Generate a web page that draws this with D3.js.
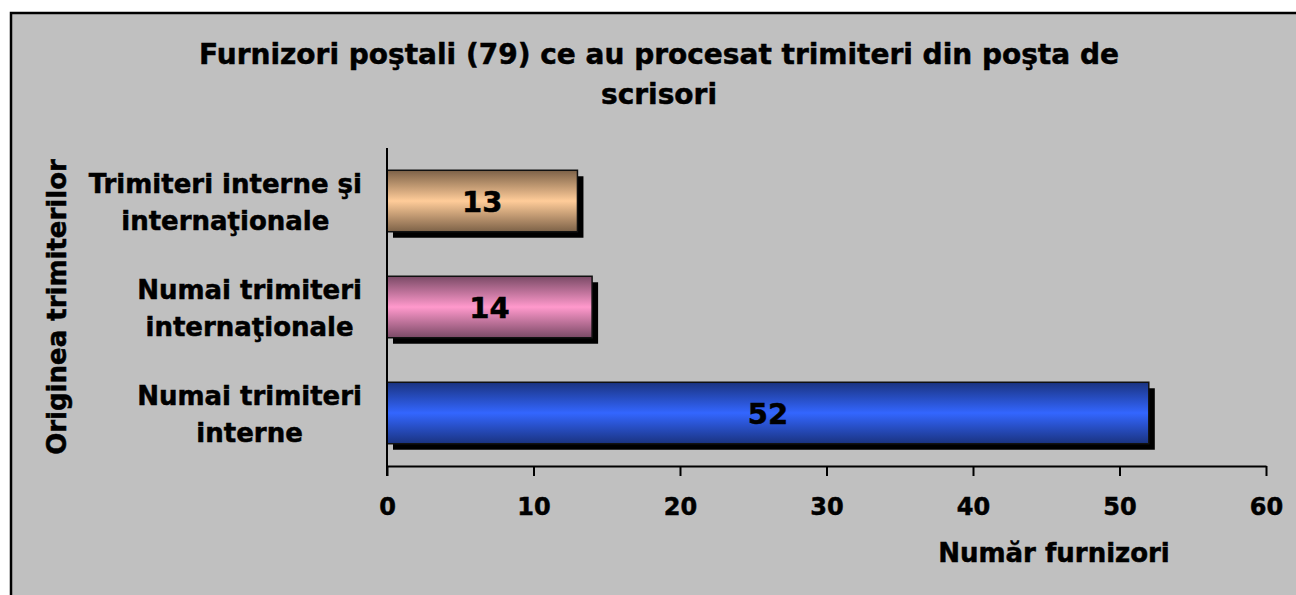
<!DOCTYPE html>
<html>
<head>
<meta charset="utf-8">
<script src="https://cdn.jsdelivr.net/npm/d3@7"></script>
<style>
  body { margin: 0; background: #fff; }
  text { font-family: "DejaVu Sans", Verdana, sans-serif; font-weight: bold; fill: #000; stroke: #000; stroke-width: 0.5px; }
</style>
</head>
<body>
<div id="chart"></div>
<script>
const categories = [
  ["Trimiteri interne şi", "internaţionale"],
  ["Numai trimiteri", "internaţionale"],
  ["Numai trimiteri", "interne"]
];
const values = [13, 14, 52];
const barColors = [
  ["#7d6248", "#ffcc99"],
  ["#7a4a66", "#ff99cc"],
  ["#1a3380", "#3366ff"]
];
const xTicks = [0, 10, 20, 30, 40, 50, 60];
const titleLines = ["Furnizori poştali (79) ce au procesat trimiteri din poşta de", "scrisori"];

const W = 1296, H = 595;
const margin = {top: 148, right: 30, bottom: 129, left: 387};
const width = W - margin.left - margin.right,
      height = H - margin.top - margin.bottom;

const svg = d3.select("#chart").append("svg")
  .attr("width", W).attr("height", H);

// chart area background + frame
svg.append("rect")
  .attr("x", 11).attr("y", 13)
  .attr("width", W + 10).attr("height", H + 10)
  .attr("fill", "#c0c0c0")
  .attr("stroke", "#000").attr("stroke-width", 2.5);

const defs = svg.append("defs");
barColors.forEach((c, i) => {
  const g = defs.append("linearGradient")
    .attr("id", "grad" + i)
    .attr("x1", 0).attr("y1", 0).attr("x2", 0).attr("y2", 1);
  g.append("stop").attr("offset", "0%").attr("stop-color", c[0]);
  g.append("stop").attr("offset", "50%").attr("stop-color", c[1]);
  g.append("stop").attr("offset", "100%").attr("stop-color", c[0]);
});

const g = svg.append("g")
  .attr("transform", `translate(${margin.left},${margin.top})`);

const xScale = d3.scaleLinear().domain([0, 60]).range([0, 879]);
const yScale = d3.scaleBand()
  .domain(d3.range(categories.length))
  .range([0, height])
  .paddingInner(0.42).paddingOuter(0.21);

// shadows
g.selectAll("rect.shadow")
  .data(values)
  .enter().append("rect")
  .attr("class", "shadow")
  .attr("x", 6)
  .attr("y", (d, i) => yScale(i) + 6)
  .attr("width", d => xScale(d))
  .attr("height", yScale.bandwidth())
  .attr("fill", "#000");

// bars
g.selectAll("rect.bar")
  .data(values)
  .enter().append("rect")
  .attr("class", "bar")
  .attr("x", 0)
  .attr("y", (d, i) => yScale(i))
  .attr("width", d => xScale(d))
  .attr("height", yScale.bandwidth())
  .attr("fill", (d, i) => `url(#grad${i})`)
  .attr("stroke", "#111")
  .attr("stroke-width", 1.5);

// value labels
g.selectAll("text.value")
  .data(values)
  .enter().append("text")
  .attr("class", "value")
  .attr("x", d => xScale(d) / 2)
  .attr("y", (d, i) => yScale(i) + yScale.bandwidth() / 2)
  .attr("dy", "0.37em")
  .attr("text-anchor", "middle")
  .style("font-size", "29px")
  .text(d => d);

// x axis
const xAxis = d3.axisBottom(xScale).tickValues(xTicks).tickSize(10).tickSizeOuter(0);
const drawX = g.append("g")
  .attr("transform", `translate(0,${height})`)
  .call(xAxis);
drawX.select(".domain").attr("stroke", "#000").attr("stroke-width", 2);
drawX.selectAll(".tick line").attr("stroke", "#000").attr("stroke-width", 2);
drawX.selectAll(".tick text")
  .attr("y", 49)
  .attr("dy", 0)
  .style("font-size", "24px")
  .style("font-family", "DejaVu Sans")
  .style("font-weight", "bold");

// y axis line
g.append("line")
  .attr("x1", 0).attr("x2", 0)
  .attr("y1", 0).attr("y2", height + 10)
  .attr("stroke", "#000").attr("stroke-width", 2);

// category labels: block right-aligned, lines centred
const labels = g.selectAll("text.cat")
  .data(categories)
  .enter().append("text")
  .attr("class", "cat")
  .style("font-size", "26px")
  .attr("text-anchor", "middle");
labels.each(function(lines, i) {
  const t = d3.select(this);
  const mid = yScale(i) + yScale.bandwidth() / 2;
  lines.forEach((line, j) => {
    t.append("tspan").text(line)
      .attr("y", mid - 8.5 + j * 37);
  });
  const w = d3.max(t.selectAll("tspan").nodes(), n => n.getComputedTextLength());
  t.selectAll("tspan").attr("x", -25 - w / 2);
});

// title
svg.append("text")
  .attr("x", 659)
  .attr("text-anchor", "middle")
  .style("font-size", "28px")
  .selectAll("tspan")
  .data(titleLines)
  .enter().append("tspan")
  .attr("x", 659)
  .attr("y", (d, i) => 64 + i * 40)
  .text(d => d);

// axis titles
svg.append("text")
  .attr("x", 1054).attr("y", 562)
  .attr("text-anchor", "middle")
  .style("font-size", "26px")
  .text("Număr furnizori");

svg.append("text")
  .attr("transform", "translate(66,307) rotate(-90)")
  .attr("text-anchor", "middle")
  .style("font-size", "26px")
  .text("Originea trimiterilor");
</script>
</body>
</html>
